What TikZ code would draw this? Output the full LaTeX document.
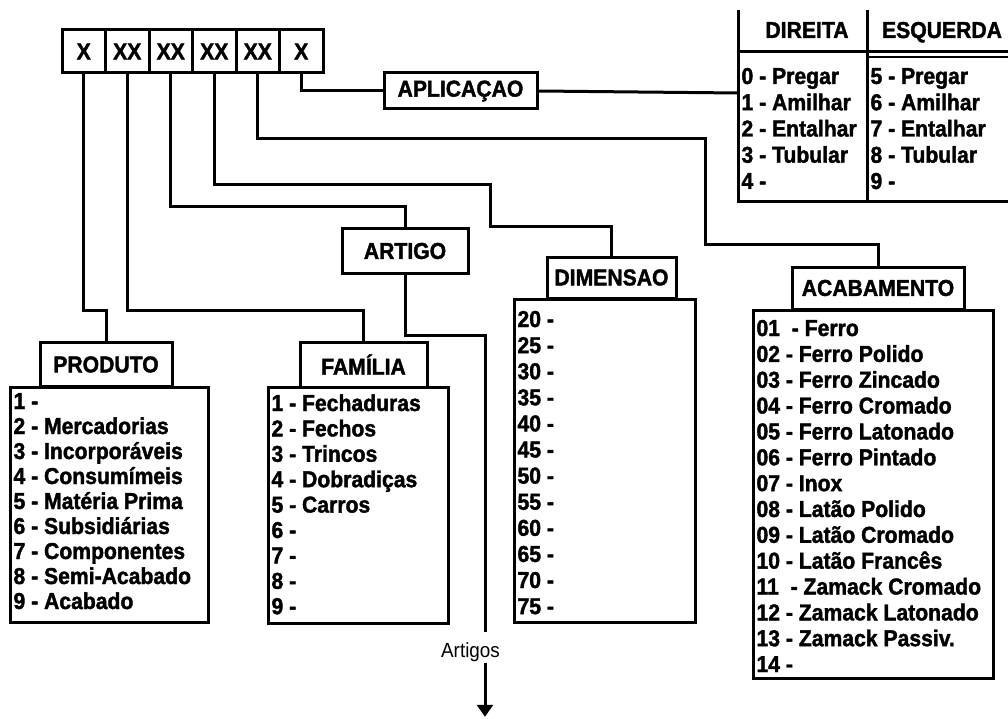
\documentclass[tikz,border=0pt]{standalone}
\usepackage{fontspec}
\setmainfont{Liberation Sans}[FakeStretch=0.92, BoldFeatures={FakeBold=1.6}]
\usetikzlibrary{arrows.meta,calc,positioning}

\begin{document}
\begin{tikzpicture}[x=1pt, y=-1pt, line width=3pt,
  every node/.style={font=\fontsize{23}{25}\selectfont\bfseries, inner sep=0pt},
  celula/.style={draw, minimum width=43.5pt, minimum height=43pt},
  cabeca/.style={draw, minimum height=44pt},
  lista/.style={draw},
  item/.style={anchor=base west},
  seta/.style={-{Triangle[width=16pt,length=12pt]}}]
\useasboundingbox[fill=white] (0,0) rectangle (1008,719);

% codigo
\foreach \t [count=\i] in {X,XX,XX,XX,XX,X}
  \node[celula] (c\i) at ({62+43.5*(\i-0.5)},51.5) {\t};

% cabecalhos
\node[draw, minimum width=153pt, minimum height=36pt] (aplic) at (460.5,91) {APLICAÇAO};
\node[cabeca, minimum width=126pt] (artigo) at (405,251) {ARTIGO};
\node[cabeca, minimum width=132pt] (prodcab) at (106,364.5) {PRODUTO};
\node[cabeca, minimum width=127pt, minimum height=45pt] (famcab) at (363.5,364.5) {FAMÍLIA};
\node[cabeca, minimum width=129pt, minimum height=41pt] (dimcab) at (611.5,277.5) {DIMENSAO};
\node[cabeca, minimum width=172pt, minimum height=42pt] (acabcab) at (878,288) {ACABAMENTO};

% listas
\node[lista, minimum width=198pt, minimum height=235pt] (prodlista) at (109,504.5) {};
\node[lista, minimum width=180pt, minimum height=236pt] (famlista) at (358,505) {};
\node[lista, minimum width=181pt, minimum height=323pt] (dimlista) at (604.5,460.5) {};
\node[lista, minimum width=240pt, minimum height=368pt] (acablista) at (873,494) {};

\foreach \t [count=\i] in {1 -, 2 - Mercadorias, 3 - Incorporáveis, 4 - Consumímeis,
    5 - Matéria Prima, 6 - Subsidiárias, 7 - Componentes, 8 - Semi-Acabado, 9 - Acabado}
  \node[item] (p\i) at (12,{409+25*(\i-1)}) {\t};
\foreach \t [count=\i] in {1 - Fechaduras, 2 - Fechos, 3 - Trincos, 4 - Dobradiças,
    5 - Carros, 6 -, 7 -, 8 -, 9 -}
  \node[item] (f\i) at (270,{411+25.4*(\i-1)}) {\t};
\foreach \t [count=\i] in {20,25,...,75}
  \node[item] (d\i) at (516,{327+26.1*(\i-1)}) {\t\ -};
\foreach \t [count=\i] in {01~ - Ferro, 02 - Ferro Polido, 03 - Ferro Zincado,
    04 - Ferro Cromado, 05 - Ferro Latonado, 06 - Ferro Pintado, 07 - Inox,
    08 - Latão Polido, 09 - Latão Cromado, 10 - Latão Francês,
    11~ - Zamack Cromado, 12 - Zamack Latonado, 13 - Zamack Passiv., 14 -}
  \node[item] (a\i) at (755,{336+25.85*(\i-1)}) {\t};

% tabela direita / esquerda
\node[anchor=base] (dir) at (807,38) {DIREITA};
\node[anchor=base] (esq) at (942,38) {ESQUERDA};
\draw (738,10) -- (738,202) -- (1008,202);
\draw (867,10) -- (867,202);
\draw (738,52) -- (1008,52);
\draw[line width=2pt] (867,57) -- (1008,57);
\coordinate (tab) at (738,93);
\foreach \t [count=\i] in {0 - Pregar, 1 - Amilhar, 2 - Entalhar, 3 - Tubular, 4 -}
  \node[item] (r\i) at (740,{84+26.25*(\i-1)}) {\t};
\foreach \t [count=\i] in {5 - Pregar, 6 - Amilhar, 7 - Entalhar, 8 - Tubular, 9 -}
  \node[item] (l\i) at (869,{84+26.25*(\i-1)}) {\t};

% ligacoes
\draw (c1.south) -- ++(0,236) -| (prodcab.north);
\draw (c2.south) -- ++(0,236) -| (famcab.north);
\draw (c3.south) -- ++(0,132) -| (artigo.north);
\draw (c4.south) -- ++(0,110) -- ++(276,0) -- ++(0,42) -| (dimcab.north);
\draw (c5.south) -- ++(0,64) -- ++(448,0) -- ++(0,106) -| (acabcab.north);
\draw (c6.south) |- (aplic.west);
\draw (aplic.east) -- (tab);

\node[font=\fontsize{20.5}{22}\selectfont, anchor=base] (rotulo) at (470.5,657) {Artigos};
\coordinate (saida) at (485,632);
\draw (artigo.south) -- ++(0,61) -| (saida);
\draw[seta] (saida |- rotulo.south) -- ++(0,54);
\end{tikzpicture}
\end{document}
